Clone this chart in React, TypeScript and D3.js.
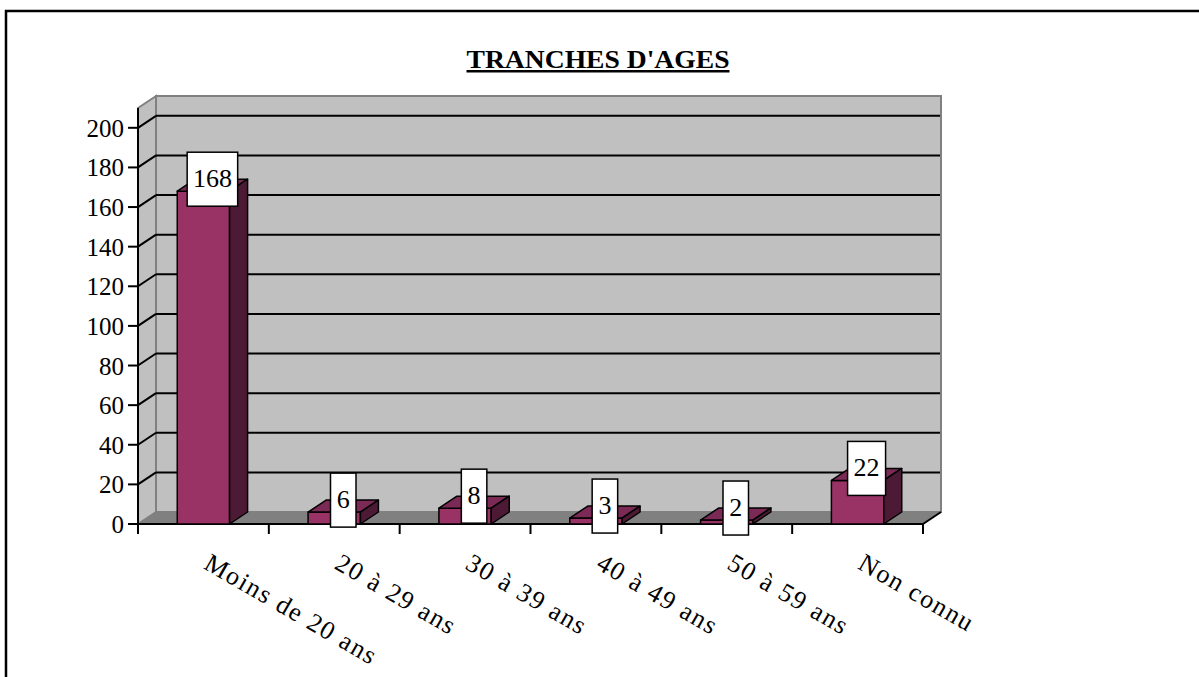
import React from "react";
import * as d3 from "d3";

// Age-bracket counts
const categories = [
  "Moins de 20 ans",
  "20 à 29 ans",
  "30 à 39 ans",
  "40 à 49 ans",
  "50 à 59 ans",
  "Non connu",
];
const values = [168, 6, 8, 3, 2, 22];
const yTicks = [0, 20, 40, 60, 80, 100, 120, 140, 160, 180, 200];
const title = "TRANCHES D'AGES";

const W = 1199;
const H = 677;
const FONT = "'Liberation Serif', 'DejaVu Serif', serif";

// plot box (front plane) and 3D depth offset
const left = 138;
const right = 923;
const bottom = 524;
const top = 108;
const DX = 18;
const DY = 12;

const COLORS = {
  wall: "#c0c0c0",
  wallEdge: "#808080",
  floor: "#808080",
  front: "#993366",
  topFace: "#7a2a55",
  side: "#4d1a35",
};

export default function App() {
  const y = d3.scaleLinear().domain([0, 210]).range([bottom, top]);
  const xCat = d3.scaleBand<string>().domain(categories).range([left, right]);
  const xBar = d3
    .scaleBand<string>()
    .domain(categories)
    .range([left, right])
    .paddingInner(0.6)
    .paddingOuter(0.3);
  const bw = xBar.bandwidth();
  const fs = 25;

  const wallTop = y(210) - DY;
  const backLeft = left + DX;
  const backRight = right + DX;
  const backBottom = bottom - DY;

  const tickXs = [...categories.map((c) => xCat(c) as number), right];

  return (
    <svg
      width={W}
      height={H}
      viewBox={`0 0 ${W} ${H}`}
      style={{ position: "absolute", left: 0, top: 0, display: "block", background: "#fff" }}
      fontFamily={FONT}
    >
      {/* frame */}
      <path d={`M6,${H} V11 H${W}`} fill="none" stroke="#000" strokeWidth={2.5} />

      {/* title */}
      <text
        x={598}
        y={68}
        textAnchor="middle"
        fontSize={25}
        fontWeight="bold"
        textDecoration="underline"
        textLength={263}
        lengthAdjust="spacingAndGlyphs"
      >
        {title}
      </text>

      {/* back wall */}
      <rect
        x={backLeft}
        y={wallTop}
        width={backRight - backLeft}
        height={backBottom - wallTop}
        fill={COLORS.wall}
        stroke={COLORS.wallEdge}
        strokeWidth={2}
      />
      {/* side wall */}
      <polygon
        points={`${left},${y(210)} ${backLeft},${wallTop} ${backLeft},${backBottom} ${left},${bottom}`}
        fill={COLORS.wall}
        stroke={COLORS.wallEdge}
        strokeWidth={2}
      />
      {/* floor */}
      <polygon
        points={`${left},${bottom} ${right},${bottom} ${backRight},${backBottom} ${backLeft},${backBottom}`}
        fill={COLORS.floor}
      />

      {/* gridlines */}
      {yTicks
        .filter((t) => t > 0)
        .map((t) => (
          <g key={`g${t}`}>
            <line
              x1={backLeft}
              x2={backRight - 1}
              y1={y(t) - DY}
              y2={y(t) - DY}
              stroke="#000"
              strokeWidth={2}
            />
            <line x1={left} x2={backLeft} y1={y(t)} y2={y(t) - DY} stroke="#000" strokeWidth={2} />
          </g>
        ))}

      {/* y axis */}
      <line x1={left} x2={left} y1={y(210)} y2={bottom} stroke="#000" strokeWidth={2} />
      {yTicks.map((t) => (
        <g key={`t${t}`}>
          <line x1={left - 10} x2={left} y1={y(t)} y2={y(t)} stroke="#000" strokeWidth={2} />
          <text x={124} y={y(t) + 9} textAnchor="end" fontSize={fs}>
            {t}
          </text>
        </g>
      ))}

      {/* x axis */}
      <line x1={left} x2={right} y1={bottom} y2={bottom} stroke="#000" strokeWidth={2} />
      <line x1={right} x2={backRight} y1={bottom} y2={backBottom} stroke="#000" strokeWidth={2} />
      {tickXs.map((tx, i) => (
        <line key={`x${i}`} x1={tx} x2={tx} y1={bottom} y2={bottom + 10} stroke="#000" strokeWidth={2} />
      ))}
      {categories.map((c) => {
        const cx = (xCat(c) as number) + xCat.bandwidth() / 2 - 1;
        const cy = 568;
        return (
          <text
            key={`l${c}`}
            x={cx}
            y={cy}
            fontSize={26}
            letterSpacing={1.6}
            transform={`rotate(30 ${cx} ${cy})`}
          >
            {c}
          </text>
        );
      })}

      {/* bars */}
      {categories.map((c, i) => {
        const x0 = xBar(c) as number;
        const x1 = x0 + bw;
        const yt = y(values[i]);
        return (
          <g key={`b${c}`} stroke="#000" strokeWidth={1.5} strokeLinejoin="round">
            <rect x={x0} y={yt} width={bw} height={bottom - yt} fill={COLORS.front} />
            <polygon
              points={`${x0},${yt} ${x1},${yt} ${x1 + DX},${yt - DY} ${x0 + DX},${yt - DY}`}
              fill={COLORS.topFace}
            />
            <polygon
              points={`${x1},${yt} ${x1 + DX},${yt - DY} ${x1 + DX},${bottom - DY} ${x1},${bottom}`}
              fill={COLORS.side}
            />
          </g>
        );
      })}

      {/* value labels */}
      {categories.map((c, i) => {
        const v = values[i];
        const label = String(v);
        const tw = label.length * fs * 0.5;
        const boxW = tw + 13;
        const boxH = 54;
        const cx = (xBar(c) as number) + bw / 2 + DX / 2;
        const cy = y(v) - DY;
        return (
          <g key={`v${c}`}>
            <rect
              x={cx - boxW / 2}
              y={cy - boxH / 2}
              width={boxW}
              height={boxH}
              fill="#fff"
              stroke="#000"
              strokeWidth={1.5}
            />
            <text x={cx} y={cy + 8} textAnchor="middle" fontSize={fs + 1}>
              {label}
            </text>
          </g>
        );
      })}
    </svg>
  );
}
